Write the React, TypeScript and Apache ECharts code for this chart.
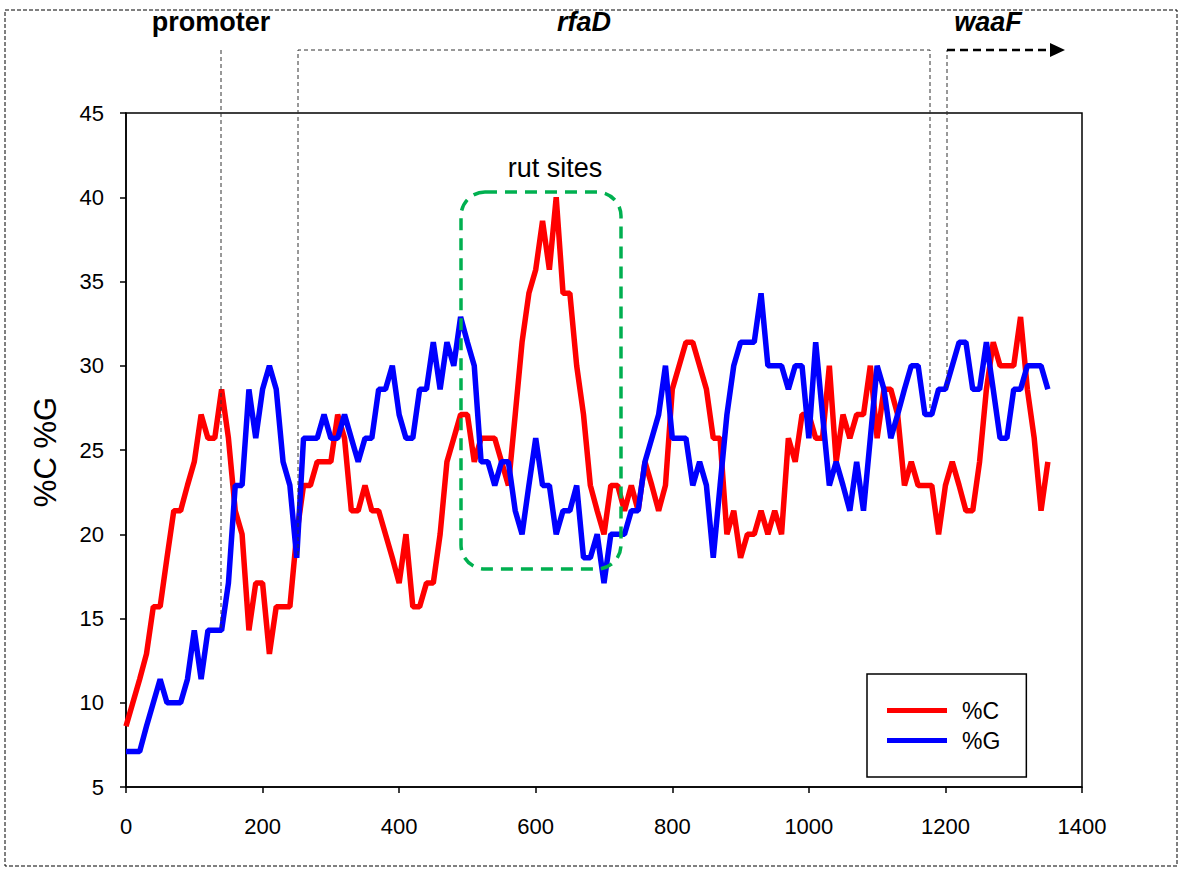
import React, { useEffect, useRef } from "react";
import * as echarts from "echarts";

const positions = Array.from({ length: 136 }, (_, i) => i * 10);

const pctC = [
  8.6, 10.0, 11.4, 12.9, 15.7, 15.7, 18.6, 21.4, 21.4, 22.9,
  24.3, 27.1, 25.7, 25.7, 28.6, 25.7, 21.4, 20.0, 14.3, 17.1,
  17.1, 12.9, 15.7, 15.7, 15.7, 20.0, 22.9, 22.9, 24.3, 24.3,
  24.3, 27.1, 25.7, 21.4, 21.4, 22.9, 21.4, 21.4, 20.0, 18.6,
  17.1, 20.0, 15.7, 15.7, 17.1, 17.1, 20.0, 24.3, 25.7, 27.1,
  27.1, 24.3, 25.7, 25.7, 25.7, 24.3, 22.9, 27.1, 31.4, 34.3,
  35.7, 38.6, 35.7, 40.0, 34.3, 34.3, 30.0, 27.1, 22.9, 21.4,
  20.0, 22.9, 22.9, 21.4, 22.9, 21.4, 24.3, 22.9, 21.4, 22.9,
  28.6, 30.0, 31.4, 31.4, 30.0, 28.6, 25.7, 25.7, 20.0, 21.4,
  18.6, 20.0, 20.0, 21.4, 20.0, 21.4, 20.0, 25.7, 24.3, 27.1,
  27.1, 25.7, 25.7, 30.0, 24.3, 27.1, 25.7, 27.1, 27.1, 30.0,
  25.7, 28.6, 28.6, 27.1, 22.9, 24.3, 22.9, 22.9, 22.9, 20.0,
  22.9, 24.3, 22.9, 21.4, 21.4, 24.3, 28.6, 31.4, 30.0, 30.0,
  30.0, 32.9, 28.6, 25.7, 21.4, 24.3,
];

const pctG = [
  7.1, 7.1, 7.1, 8.6, 10.0, 11.4, 10.0, 10.0, 10.0, 11.4,
  14.3, 11.4, 14.3, 14.3, 14.3, 17.1, 22.9, 22.9, 28.6, 25.7,
  28.6, 30.0, 28.6, 24.3, 22.9, 18.6, 25.7, 25.7, 25.7, 27.1,
  25.7, 25.7, 27.1, 25.7, 24.3, 25.7, 25.7, 28.6, 28.6, 30.0,
  27.1, 25.7, 25.7, 28.6, 28.6, 31.4, 28.6, 31.4, 30.0, 32.9,
  31.4, 30.0, 24.3, 24.3, 22.9, 24.3, 24.3, 21.4, 20.0, 22.9,
  25.7, 22.9, 22.9, 20.0, 21.4, 21.4, 22.9, 18.6, 18.6, 20.0,
  17.1, 20.0, 20.0, 20.0, 21.4, 21.4, 24.3, 25.7, 27.1, 30.0,
  25.7, 25.7, 25.7, 22.9, 24.3, 22.9, 18.6, 22.9, 27.1, 30.0,
  31.4, 31.4, 31.4, 34.3, 30.0, 30.0, 30.0, 28.6, 30.0, 30.0,
  25.7, 31.4, 27.1, 22.9, 24.3, 22.9, 21.4, 24.3, 21.4, 25.7,
  30.0, 28.6, 25.7, 27.1, 28.6, 30.0, 30.0, 27.1, 27.1, 28.6,
  28.6, 30.0, 31.4, 31.4, 28.6, 28.6, 31.4, 28.6, 25.7, 25.7,
  28.6, 28.6, 30.0, 30.0, 30.0, 28.6,
];

const seriesNames = ["%C", "%G"];
const yAxisTitle = "%C %G";
const geneLabels = ["promoter", "rfaD", "waaF"];
const boxLabel = "rut sites";

export default function App() {
  const ref = useRef<HTMLDivElement>(null);
  useEffect(() => {
    if (!ref.current) return;
    const chart = echarts.init(ref.current, null, { renderer: "svg" });
    const font = "'Liberation Sans', Arial, sans-serif";
    const thin = { stroke: "#333", lineWidth: 1, lineDash: [4, 3], fill: null };
    chart.setOption({
      animation: false,
      backgroundColor: "#fff",
      grid: {
        left: 126,
        top: 113,
        right: 100,
        bottom: 84,
        show: true,
        borderColor: "#000",
        borderWidth: 1.5,
        backgroundColor: "transparent",
      },
      legend: {
        data: seriesNames,
        orient: "vertical",
        left: 867,
        top: 674,
        padding: [25, 26, 25, 20],
        icon: "rect",
        itemWidth: 60,
        itemHeight: 5,
        itemGap: 7,
        backgroundColor: "#fff",
        borderColor: "#000",
        borderWidth: 1.5,
        borderRadius: 0,
        textStyle: { fontFamily: font, fontSize: 23, color: "#000", padding: [0, 0, 0, 10] },
      },
      xAxis: {
        type: "value",
        min: 0,
        max: 1400,
        interval: 200,
        axisLine: { show: true, lineStyle: { color: "#000", width: 1.5 } },
        axisTick: { show: true, inside: false, length: 6, lineStyle: { color: "#000", width: 1.5 } },
        axisLabel: {
          fontFamily: font,
          fontSize: 22,
          color: "#000",
          margin: 28,
          formatter: (v: number) => String(v),
        },
        splitLine: { show: false },
      },
      yAxis: {
        type: "value",
        min: 5,
        max: 45,
        interval: 5,
        axisLine: { show: true, lineStyle: { color: "#000", width: 1.5 } },
        axisTick: { show: true, inside: false, length: 6, lineStyle: { color: "#000", width: 1.5 } },
        axisLabel: { fontFamily: font, fontSize: 22, color: "#000", margin: 22 },
        splitLine: { show: false },
      },
      series: [
        {
          name: seriesNames[0],
          type: "line",
          data: positions.map((x, i) => [x, pctC[i]]),
          symbol: "none",
          color: "#FF0000",
          lineStyle: { color: "#FF0000", width: 5.5 },
          z: 3,
        },
        {
          name: seriesNames[1],
          type: "line",
          data: positions.map((x, i) => [x, pctG[i]]),
          symbol: "none",
          color: "#0000FF",
          lineStyle: { color: "#0000FF", width: 5.5 },
          z: 4,
        },
      ],
      graphic: [
        {
          type: "rect",
          shape: { x: 5, y: 10, width: 1172, height: 856 },
          style: { stroke: "#000", lineWidth: 1, lineDash: [4, 2], fill: null },
          silent: true,
        },
        {
          type: "text",
          x: 45,
          y: 452,
          rotation: Math.PI / 2,
          style: {
            text: yAxisTitle,
            fontFamily: font,
            fontSize: 31,
            fill: "#000",
            align: "center",
            verticalAlign: "middle",
          },
        },
        {
          type: "text",
          x: 211,
          y: 22,
          style: {
            text: geneLabels[0],
            fontFamily: font,
            fontWeight: "bold",
            fontSize: 27,
            fill: "#000",
            align: "center",
            verticalAlign: "middle",
          },
        },
        {
          type: "text",
          x: 584,
          y: 22,
          style: {
            text: geneLabels[1],
            fontFamily: font,
            fontWeight: "bold",
            fontStyle: "italic",
            fontSize: 27,
            fill: "#000",
            align: "center",
            verticalAlign: "middle",
          },
        },
        {
          type: "text",
          x: 988,
          y: 22,
          style: {
            text: geneLabels[2],
            fontFamily: font,
            fontWeight: "bold",
            fontStyle: "italic",
            fontSize: 27,
            fill: "#000",
            align: "center",
            verticalAlign: "middle",
          },
        },
        {
          type: "text",
          x: 555,
          y: 168,
          style: {
            text: boxLabel,
            fontFamily: font,
            fontSize: 27,
            fill: "#000",
            align: "center",
            verticalAlign: "middle",
          },
        },
        {
          type: "line",
          shape: { x1: 221, y1: 50, x2: 221, y2: 630 },
          style: thin,
          z: 10,
        },
        {
          type: "polyline",
          shape: { points: [[298, 555], [298, 50], [930, 50], [930, 410]] },
          style: thin,
          z: 10,
        },
        {
          type: "line",
          shape: { x1: 947, y1: 388, x2: 947, y2: 50 },
          style: thin,
          z: 10,
        },
        {
          type: "line",
          shape: { x1: 947, y1: 50, x2: 1052, y2: 50 },
          style: { stroke: "#000", lineWidth: 2.5, lineDash: [8, 5] },
          z: 10,
        },
        {
          type: "polygon",
          shape: { points: [[1050, 43], [1065, 50], [1050, 57]] },
          style: { fill: "#000" },
          z: 10,
        },
        {
          type: "rect",
          shape: { x: 461, y: 192, width: 160, height: 377, r: 24 },
          style: { stroke: "#00B050", lineWidth: 3.5, lineDash: [12, 8], fill: null },
          z: 10,
        },
      ],
    });
    return () => chart.dispose();
  }, []);
  return (
    <div
      ref={ref}
      style={{ position: "absolute", left: 0, top: 0, width: 1182, height: 871 }}
    />
  );
}
